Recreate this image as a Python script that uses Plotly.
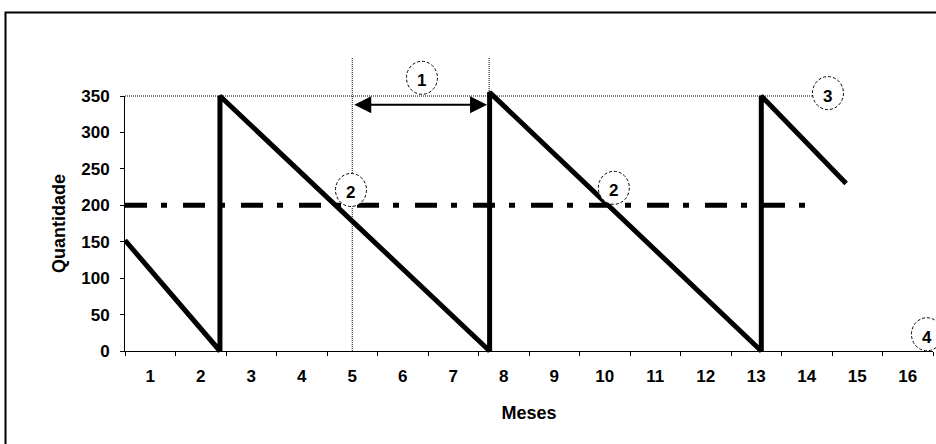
import plotly.graph_objects as go

# valores
meses = list(range(1, 17))
estoque_x = [0.5, 2.38, 2.38, 7.72, 7.72, 13.1, 13.1, 14.78]
estoque_y = [152, 0, 350, 0, 355, 0, 350, 230]
seguranca_x = [0.5, 14.05]
seguranca_y = [200, 200]
maximo = 350
maximo_fim = 14.1
pedido_x = [5.0, 7.71]
guia_topo = 403
seta_y = 338
marcas = ["1", "2", "2", "3", "4"]
marcas_x = [6.38, 4.975, 10.18, 14.42, 16.38]
marcas_y = [375, 221, 224, 354, 23]

# geometria em pixels
W, H = 936, 444
ML, MR, MT, MB = 125, 0, 20, 80
plot_right = 933
px_mes = 50.5
y0_px, y350_px = 351, 96
pw = W - ML - MR
ph = H - MT - MB
k = 350 / (y0_px - y350_px)   # unidades por pixel

FONT = "Liberation Sans, Arial, sans-serif"

fig = go.Figure()

# traço invisível para ancorar os eixos principais
fig.add_trace(go.Scatter(x=meses, y=[None] * len(meses), xaxis="x", yaxis="y",
                         mode="markers", showlegend=False, hoverinfo="skip"))

# estoque de segurança (traço-ponto)
fig.add_trace(go.Scatter(x=seguranca_x, y=seguranca_y, xaxis="x2", yaxis="y2",
                         mode="lines", showlegend=False,
                         line=dict(color="black", width=5, dash="22px,14px,6px,16px")))

# linha do máximo
fig.add_trace(go.Scatter(x=[seguranca_x[0], maximo_fim], y=[maximo, maximo],
                         xaxis="x2", yaxis="y2", mode="lines", showlegend=False,
                         line=dict(color="black", width=1, dash="1px,1px")))

# guias verticais
for gx in pedido_x:
    fig.add_trace(go.Scatter(x=[gx, gx], y=[0, guia_topo], xaxis="x2", yaxis="y2",
                             mode="lines", showlegend=False,
                             line=dict(color="black", width=1, dash="1px,1px")))

# dente de serra do estoque
fig.add_trace(go.Scatter(x=estoque_x, y=estoque_y, xaxis="x2", yaxis="y2",
                         mode="lines", showlegend=False,
                         line=dict(color="black", width=5)))

# círculos numerados
rx = 15.5 / px_mes
ry = 16.5 * k
for t, cx, cy in zip(marcas, marcas_x, marcas_y):
    fig.add_shape(type="circle", xref="x2", yref="y2",
                  x0=cx - rx, x1=cx + rx, y0=cy - ry, y1=cy + ry,
                  line=dict(color="black", width=1, dash="3px,2px"),
                  fillcolor="white")
    fig.add_annotation(x=cx, y=cy, xref="x2", yref="y2", text=t, showarrow=False,
                       yshift=-3, font=dict(family=FONT, size=17, color="black", weight="bold"))

# seta de duas pontas (tempo de reposição)
fig.add_annotation(x=pedido_x[1] - 0.04, y=seta_y, ax=pedido_x[0] + 0.01, ay=seta_y,
                   xref="x2", yref="y2", axref="x2", ayref="y2", text="",
                   showarrow=True, arrowhead=2, arrowsize=1.7, arrowwidth=2,
                   startarrowhead=2, startarrowsize=1.7, arrowside="end+start",
                   arrowcolor="black", standoff=0, startstandoff=0)

# moldura externa
fig.add_shape(type="rect", xref="paper", yref="paper",
              x0=(5.5 - ML) / pw, x1=(W + 5 - ML) / pw,
              y0=(MT + ph - H - 5) / ph, y1=(MT + ph - 12.5) / ph,
              line=dict(color="black", width=2))

tickfont = dict(family=FONT, size=17, color="black", weight="bold")

fig.update_layout(
    width=W, height=H,
    margin=dict(l=ML, r=MR, t=MT, b=MB),
    paper_bgcolor="white", plot_bgcolor="rgba(0,0,0,0)",
    showlegend=False,
    xaxis=dict(
        domain=[0, (plot_right - ML) / pw],
        range=[0.5, 16.5], anchor="y",
        tickvals=meses, ticks="", showgrid=False, zeroline=False,
        showline=True, linecolor="black", linewidth=1,
        tickfont=tickfont, ticklabelstandoff=10,
        minor=dict(tickvals=[m - 0.5 for m in meses] + [16.5], ticks="outside",
                   ticklen=4, tickcolor="black", tickwidth=1, showgrid=False),
        title=dict(text="<b>Meses</b>", standoff=20,
                   font=dict(family=FONT, size=18, color="black")),
    ),
    yaxis=dict(
        domain=[(MT + ph - y0_px) / ph, (MT + ph - y350_px) / ph],
        range=[0, 350], anchor="x", dtick=50,
        ticks="outside", ticklen=4, tickcolor="black",
        showgrid=False, zeroline=False,
        showline=True, linecolor="black", linewidth=1,
        tickfont=tickfont, ticklabelstandoff=7,
        title=dict(text="<b>Quantidade</b>", standoff=10,
                   font=dict(family=FONT, size=18, color="black")),
    ),
    xaxis2=dict(domain=[0, 1], anchor="y2", visible=False,
                range=[0.5, 0.5 + pw / px_mes]),
    yaxis2=dict(domain=[0, 1], anchor="x2", visible=False,
                range=[-(MT + ph - y0_px) * k, 350 + (y350_px - MT) * k]),
)

# sem margem do <body>, para a figura ocupar a janela a partir de (0, 0)
fig.write_html("out.html", config={"displayModeBar": False},
               post_script="document.body.style.margin='0';document.body.style.overflow='hidden';")
